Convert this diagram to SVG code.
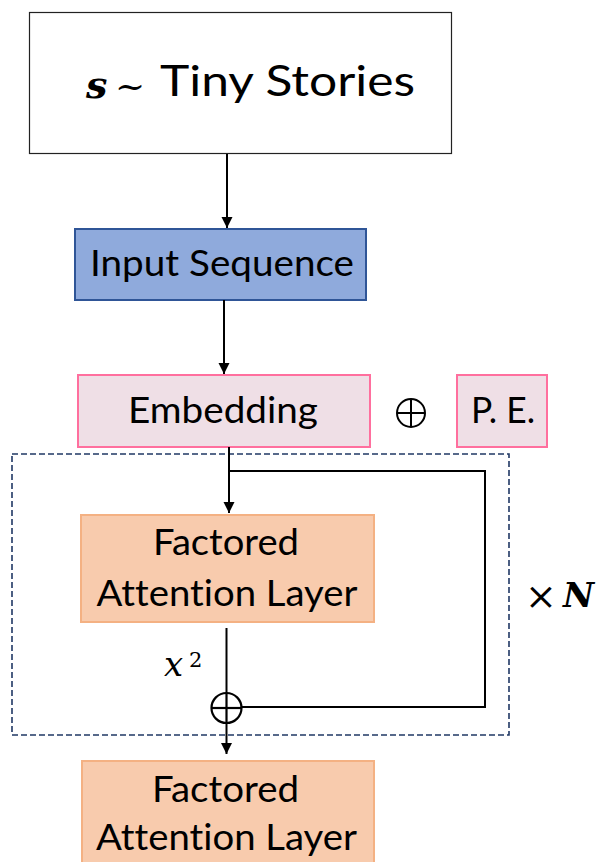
<svg xmlns="http://www.w3.org/2000/svg" width="598" height="862" viewBox="0 0 598 862">
  <style>
    .lbl { font-family: Lato, "Open Sans", "Liberation Sans", sans-serif; fill: #000; text-anchor: middle; font-variant-ligatures: none; }
    .math { font-family: "DejaVu Serif", "Liberation Serif", serif; fill: #000; }
    .wire { fill: none; stroke: #000; stroke-width: 2; }
    .fal { fill: #F8CBAD; stroke: #F4B183; stroke-width: 2; }
    .emb { fill: #EFDFE6; stroke: #FF6F9E; stroke-width: 2; }
  </style>
  <defs>
    <marker id="arrow" viewBox="0 0 10 10" refX="10" refY="5" markerWidth="5.5" markerHeight="6" markerUnits="strokeWidth" orient="auto">
      <path d="M0,0 L10,5 L0,10 Z" fill="#000"/>
    </marker>
  </defs>
  <rect width="598" height="862" fill="#fff"/>

  <!-- dataset source -->
  <g id="source">
    <rect x="29.5" y="12.5" width="422" height="141" fill="#fff" stroke="#222" stroke-width="1.2"/>
    <text x="86" y="98" class="math" font-size="38" font-weight="bold" font-style="italic">s</text>
    <text x="115" y="98" class="math" font-size="36">~</text>
    <text x="287.5" y="96" class="lbl" font-size="43" textLength="255" lengthAdjust="spacingAndGlyphs">Tiny Stories</text>
  </g>

  <g id="input-sequence">
    <rect x="75" y="229" width="291" height="71" fill="#8FAADC" stroke="#2F5597" stroke-width="2"/>
    <text x="222" y="276" class="lbl" font-size="36" textLength="264" lengthAdjust="spacingAndGlyphs">Input Sequence</text>
  </g>

  <g id="embedding">
    <rect x="78" y="375" width="292" height="72" class="emb"/>
    <text x="223" y="423" class="lbl" font-size="36" textLength="190" lengthAdjust="spacingAndGlyphs">Embedding</text>
  </g>

  <g id="pe-add">
    <circle cx="411" cy="413" r="14" fill="none" stroke="#000" stroke-width="2"/>
    <line x1="397" y1="413" x2="425" y2="413" stroke="#000" stroke-width="2"/>
    <line x1="411" y1="399" x2="411" y2="427" stroke="#000" stroke-width="2"/>
  </g>

  <g id="positional-encoding">
    <rect x="457" y="375" width="90" height="72" class="emb"/>
    <text x="503" y="423" class="lbl" font-size="36" textLength="64" lengthAdjust="spacingAndGlyphs">P. E.</text>
  </g>

  <!-- repeated block -->
  <g id="repeat-block">
    <rect x="12" y="454" width="497" height="281" fill="none" stroke="#203864" stroke-width="1.6" stroke-dasharray="6,3"/>
    <text x="525" y="609" class="math" font-size="38">×</text>
    <text x="563" y="607" class="math" font-size="34" font-weight="bold" font-style="italic">N</text>
  </g>

  <g id="attention-layer-1">
    <rect x="81" y="515" width="293" height="107" class="fal"/>
    <text x="226" y="555" class="lbl" font-size="36" textLength="146" lengthAdjust="spacingAndGlyphs">Factored</text>
    <text x="227" y="606" class="lbl" font-size="36" textLength="261" lengthAdjust="spacingAndGlyphs">Attention Layer</text>
  </g>

  <g id="residual-add">
    <circle cx="226.5" cy="708" r="15" fill="none" stroke="#000" stroke-width="2.2"/>
    <line x1="211.5" y1="708" x2="241.5" y2="708" stroke="#000" stroke-width="2.2"/>
    <line x1="226.5" y1="693" x2="226.5" y2="723" stroke="#000" stroke-width="2.2"/>
  </g>

  <g id="x2-label">
    <text x="164" y="676" class="math" font-size="34" font-style="italic">x</text>
    <text x="189" y="667" class="math" font-size="21">2</text>
  </g>

  <g id="attention-layer-2">
    <rect x="82" y="761" width="292" height="112" class="fal"/>
    <text x="225.5" y="802" class="lbl" font-size="36" textLength="147" lengthAdjust="spacingAndGlyphs">Factored</text>
    <text x="226.5" y="850" class="lbl" font-size="36" textLength="261" lengthAdjust="spacingAndGlyphs">Attention Layer</text>
  </g>

  <!-- connectors -->
  <g id="connectors">
    <line x1="227" y1="154" x2="227" y2="228" class="wire" marker-end="url(#arrow)"/>
    <line x1="224" y1="300" x2="224" y2="374" class="wire" marker-end="url(#arrow)"/>
    <line x1="229" y1="447" x2="229" y2="513" class="wire" marker-end="url(#arrow)"/>
    <polyline points="229,471 485,471 485,707 241.5,707" class="wire"/>
    <line x1="226.5" y1="628" x2="226.5" y2="693" class="wire"/>
    <line x1="226.5" y1="723" x2="226.5" y2="754" class="wire" marker-end="url(#arrow)"/>
  </g>
</svg>
